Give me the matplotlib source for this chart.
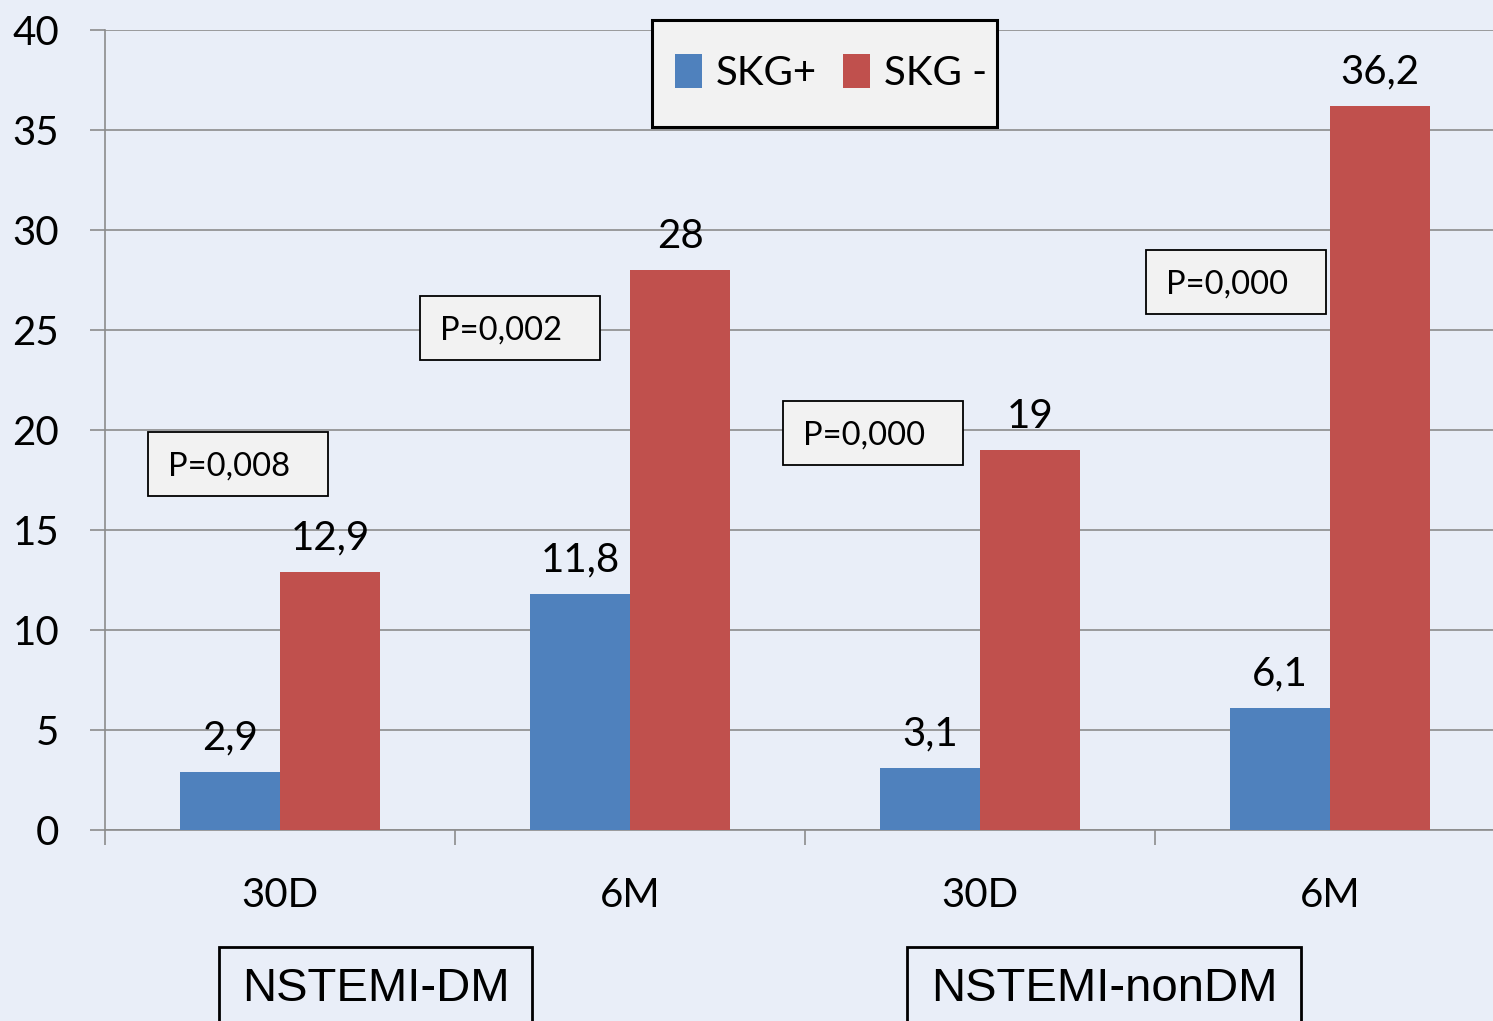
import matplotlib.pyplot as plt
from matplotlib.patches import Rectangle
import numpy as np

# data
categories = ['30D', '6M', '30D', '6M']
skg_plus = [2.9, 11.8, 3.1, 6.1]
skg_minus = [12.9, 28, 19, 36.2]
plus_labels = ['2,9', '11,8', '3,1', '6,1']
minus_labels = ['12,9', '28', '19', '36,2']
p_values = ['P=0,008', 'P=0,002', 'P=0,000', 'P=0,000']
p_pos = [(-0.12, 18.3), (0.657, 25.1), (1.694, 19.85), (2.731, 27.4)]
groups = ['NSTEMI-DM', 'NSTEMI-nonDM']

bg = '#E9EEF8'
blue = '#4F81BD'
red = '#C0504D'
grid_c = '#8C8C8C'
font = 'Lato'
W, H = 1493, 1021

fig = plt.figure(figsize=(14.93, 10.21), dpi=100, facecolor=bg)
# category width 350 px, the last category runs slightly past the right edge
ax = fig.add_axes([105/W, 1 - 830/H, 1400/W, 800/H], facecolor=bg)

x = np.arange(len(categories))
w = 0.286
ax.bar(x - w/2, skg_plus, w, color=blue, label='SKG+', zorder=3)
ax.bar(x + w/2, skg_minus, w, color=red, label='SKG -', zorder=3)

for xi, v, s in zip(x - w/2, skg_plus, plus_labels):
    ax.annotate(s, (xi, v), xytext=(0, 16), textcoords='offset points',
                ha='center', va='baseline', fontsize=29, family=font)
for xi, v, s in zip(x + w/2, skg_minus, minus_labels):
    ax.annotate(s, (xi, v), xytext=(0, 16), textcoords='offset points',
                ha='center', va='baseline', fontsize=29, family=font)

# p-value boxes (text sits a bit left of box centre)
bw, bh = 180/350, 3.2
for (px, py), s in zip(p_pos, p_values):
    ax.add_patch(Rectangle((px - bw/2, py - bh/2), bw, bh, facecolor='#F2F2F2',
                           edgecolor='black', lw=1.3, zorder=5, clip_on=False))
    ax.text(px - 0.026, py - 0.12, s, ha='center', va='center', fontsize=23.5,
            family=font, zorder=6)

ax.set_xlim(-0.5, 3.5)
ax.set_ylim(0, 40)
ax.set_yticks(range(0, 41, 5))
ax.set_xticks(np.arange(-0.5, 3.6, 1))
ax.set_xticklabels([])
ax.set_xticks(x, minor=True)
ax.set_xticklabels(categories, minor=True)
ax.tick_params(axis='x', which='minor', length=0, pad=34)
ax.tick_params(axis='x', which='major', length=11, color=grid_c, width=1.2)
ax.tick_params(axis='y', length=11, color=grid_c, width=1.2, pad=22)
for lab in ax.get_yticklabels() + ax.get_xticklabels(minor=True):
    lab.set_fontsize(29)
    lab.set_family(font)

ax.grid(axis='y', color=grid_c, lw=1.2, zorder=0)
ax.set_axisbelow(True)
for sp in ['top', 'right']:
    ax.spines[sp].set_visible(False)
for sp in ['left', 'bottom']:
    ax.spines[sp].set_color(grid_c)
    ax.spines[sp].set_linewidth(1.2)

# legend box drawn separately so its size matches
ax.add_patch(Rectangle((652/W, 1 - 127/H), 345/W, 107/H, transform=fig.transFigure,
                       facecolor='#F2F2F2', edgecolor='black', lw=2.2,
                       zorder=7, clip_on=False))
leg = ax.legend(loc='center', bbox_to_anchor=(831/W, 1 - 73/H),
                bbox_transform=fig.transFigure, ncol=2,
                prop={'family': font, 'size': 29}, frameon=False,
                handlelength=0.67, handleheight=0.9, handletextpad=0.35,
                columnspacing=0.65, borderpad=0, borderaxespad=0)
leg.set_zorder(8)

# group label boxes
for (x0, x1), s in zip([(219, 532), (907, 1301)], groups):
    fig.patches.append(Rectangle((x0/W, 1 - 1040/H), (x1 - x0)/W, 93/H,
                                 transform=fig.transFigure, facecolor='none',
                                 edgecolor='black', lw=2))
    fig.text((x0 + x1)/2/W, 1 - 989/H, s, ha='center', va='center',
             fontsize=34, family='Liberation Sans')

fig.savefig('out.png', dpi=100, facecolor=bg)
